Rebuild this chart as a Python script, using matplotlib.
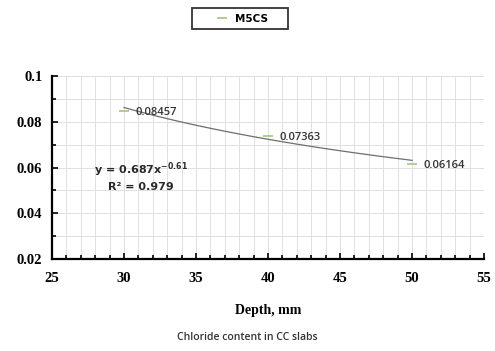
import matplotlib
matplotlib.use("Agg")
import matplotlib.pyplot as plt
from matplotlib.ticker import MultipleLocator
import numpy as np

# data
depth = [30, 40, 50]
chloride = [0.08457, 0.07363, 0.06164]
labels = ["0.08457", "0.07363", "0.06164"]
coef_a = 0.687
coef_b = -0.61
yticks = [0.02, 0.04, 0.06, 0.08, 0.1]
ytick_labels = ["0.02", "0.04", "0.06", "0.08", "0.1"]

fig = plt.figure(figsize=(4.95, 3.51), dpi=100)
ax = fig.add_axes([0.105, 0.262, 0.873, 0.521])

# power trendline
xs = np.linspace(depth[0], depth[-1], 100)
ax.plot(xs, coef_a * xs ** coef_b, color="#6e6e6e", lw=0.9, zorder=2)

# points
ax.plot(depth, chloride, ls="none", marker="_", ms=7, mew=1.3,
        color="#a9c98a", label="M5CS", zorder=3)

for x, y, t in zip(depth, chloride, labels):
    ax.annotate(t, (x, y), xytext=(8, -1), textcoords="offset points",
                fontsize=8, color="#333333", va="center",
                family="Open Sans", fontweight="semibold")

ax.text(0.205, 0.465, r"y = 0.687x$^{\mathbf{-0.61}}$", transform=ax.transAxes,
        fontsize=8, color="#2a2a2a", family="DejaVu Sans", ha="center",
        fontweight="bold")
ax.text(0.205, 0.375, "R² = 0.979", transform=ax.transAxes,
        fontsize=8, color="#2a2a2a", family="DejaVu Sans", ha="center",
        fontweight="bold")

ax.set_xlim(25, 55)
ax.set_ylim(0.02, 0.1)
ax.xaxis.set_major_locator(MultipleLocator(5))
ax.xaxis.set_minor_locator(MultipleLocator(1))
ax.yaxis.set_minor_locator(MultipleLocator(0.01))
ax.set_yticks(yticks)
ax.set_yticklabels(ytick_labels)

ax.grid(True, which="both", color="#e0e0e0", lw=0.7)
ax.set_axisbelow(True)
for s in ["top", "right"]:
    ax.spines[s].set_visible(False)
for s in ["left", "bottom"]:
    ax.spines[s].set_linewidth(1.6)
ax.tick_params(which="both", direction="in", color="black", width=1.2)
ax.tick_params(which="major", length=4)
ax.tick_params(which="minor", length=3)
ax.tick_params(axis="x", pad=9)
ax.tick_params(axis="y", pad=7)
for lab in ax.get_xticklabels() + ax.get_yticklabels():
    lab.set_family("Liberation Serif")
    lab.set_fontweight("bold")
    lab.set_fontsize(10.5)

ax.set_xlabel("Depth, mm", family="Liberation Serif", fontweight="bold",
              fontsize=10, labelpad=14)

leg = ax.legend(loc="center", bbox_to_anchor=(0.435, 1.314), frameon=True,
                fancybox=False, handlelength=4.8, handletextpad=-1.2,
                borderpad=0.55, borderaxespad=0, numpoints=1,
                prop={"family": "DejaVu Sans", "weight": "bold", "size": 7.5})
leg.get_frame().set_edgecolor("black")
leg.get_frame().set_linewidth(1.3)
for t in leg.get_texts():
    t.set_text("M5CS    ")

fig.text(0.5, 0.03, "Chloride content in CC slabs", ha="center",
         fontsize=7.5, color="#333333", family="Open Sans",
         fontweight="semibold")

fig.savefig("out.png", dpi=100)
